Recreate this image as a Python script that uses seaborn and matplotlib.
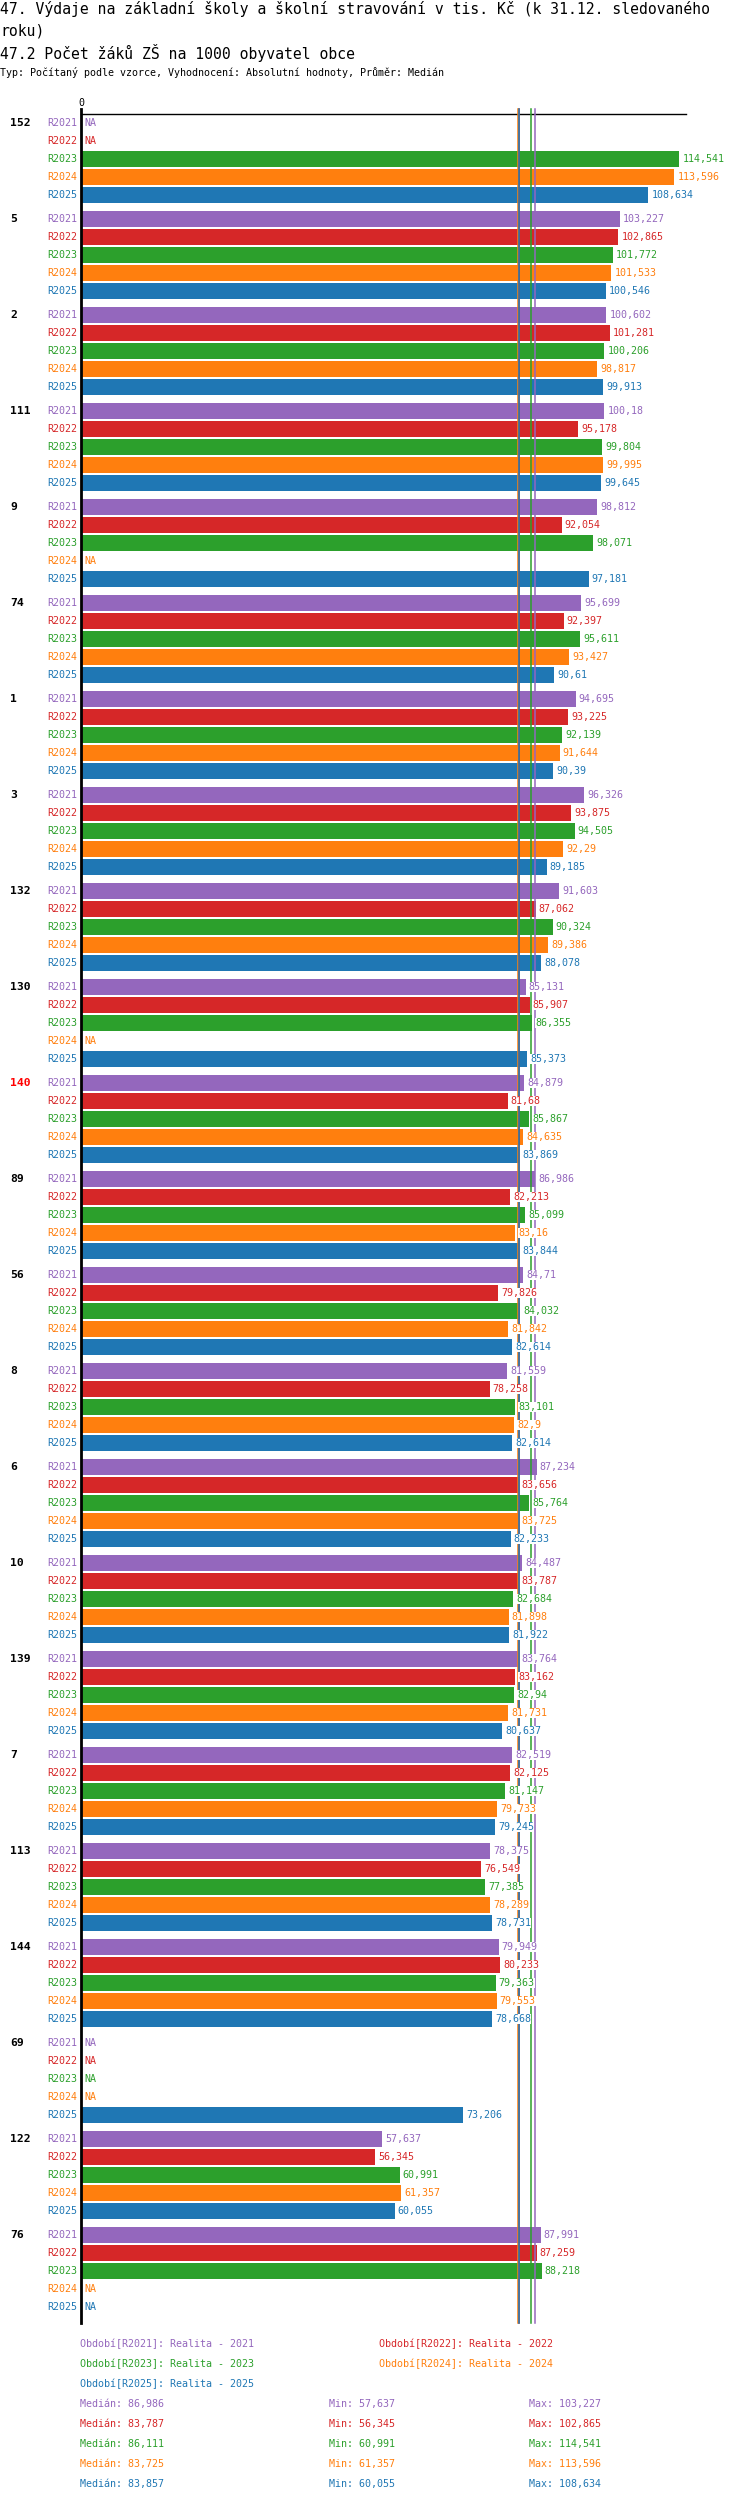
import numpy as np
import pandas as pd
import matplotlib
matplotlib.use("Agg")
import matplotlib.pyplot as plt
import seaborn as sns

nan = np.nan

groups = ["152", "5", "2", "111", "9", "74", "1", "3", "132", "130", "140", "89",
          "56", "8", "6", "10", "139", "7", "113", "144", "69", "122", "76"]
periods = ["R2021", "R2022", "R2023", "R2024", "R2025"]
period_names = ["Realita - 2021", "Realita - 2022", "Realita - 2023",
                "Realita - 2024", "Realita - 2025"]
colors = ["#9467bd", "#d62728", "#2ca02c", "#ff7f0e", "#1f77b4"]

r2021 = [nan, 103.227, 100.602, 100.18, 98.812, 95.699, 94.695, 96.326, 91.603, 85.131, 84.879, 86.986,
         84.71, 81.559, 87.234, 84.487, 83.764, 82.519, 78.375, 79.949, nan, 57.637, 87.991]
r2022 = [nan, 102.865, 101.281, 95.178, 92.054, 92.397, 93.225, 93.875, 87.062, 85.907, 81.68, 82.213,
         79.826, 78.258, 83.656, 83.787, 83.162, 82.125, 76.549, 80.233, nan, 56.345, 87.259]
r2023 = [114.541, 101.772, 100.206, 99.804, 98.071, 95.611, 92.139, 94.505, 90.324, 86.355, 85.867, 85.099,
         84.032, 83.101, 85.764, 82.684, 82.94, 81.147, 77.385, 79.363, nan, 60.991, 88.218]
r2024 = [113.596, 101.533, 98.817, 99.995, nan, 93.427, 91.644, 92.29, 89.386, nan, 84.635, 83.16,
         81.842, 82.9, 83.725, 81.898, 81.731, 79.733, 78.289, 79.553, nan, 61.357, nan]
r2025 = [108.634, 100.546, 99.913, 99.645, 97.181, 90.61, 90.39, 89.185, 88.078, 85.373, 83.869, 83.844,
         82.614, 82.614, 82.233, 81.922, 80.637, 79.245, 78.731, 78.668, 73.206, 60.055, nan]
series = [r2021, r2022, r2023, r2024, r2025]

title1 = "47. Výdaje na základní školy a školní stravování v tis. Kč (k 31.12. sledovaného"
title2 = "roku)"
subtitle = "47.2 Počet žáků ZŠ na 1000 obyvatel obce"
info = "Typ: Počítaný podle vzorce, Vyhodnocení: Absolutní hodnoty, Průměr: Medián"

plt.rcParams['font.family'] = ['DejaVu Sans Mono']

W, H = 750, 2502
GROUP_STEP = 96 / 18  # rows per group incl. gap

rows = []
for g, name in enumerate(groups):
    for r, p in enumerate(periods):
        rows.append({"group": name, "period": p, "pos": g * GROUP_STEP + r,
                     "value": series[r][g]})
df = pd.DataFrame(rows)


def fmt(v):
    return f"{round(v + 1e-9, 3):g}".replace(".", ",")


fig = plt.figure(figsize=(W / 100, H / 100), dpi=100)
x0, x1 = 81, 686
y0, y1 = 114, 2323
ax = fig.add_axes([x0 / W, 1 - y1 / H, (x1 - x0) / W, (y1 - y0) / H])

sns.barplot(data=df.dropna(subset=["value"]), x="value", y="pos", hue="period",
            hue_order=periods, palette=colors, orient="h", native_scale=True,
            dodge=False, width=16 / 18, legend=False, saturation=1, ax=ax)

xmax = (x1 - x0) / 5.223
ax.set_xlim(0, xmax)
ax.set_ylim((y1 - 123) / 18, -9 / 18)
ax.set_xticks([])
ax.set_yticks([])
ax.set_xlabel("")
ax.set_ylabel("")
for s in ["left", "right", "bottom"]:
    ax.spines[s].set_visible(False)
ax.spines["top"].set_linewidth(1.0)
ax.spines["top"].set_color("black")

ext = 1 + 5 / (y1 - y0)
medians = [np.nanmedian(s) for s in series]
for m, c in zip(medians, colors):
    ax.axvline(m, ymin=0, ymax=ext, color=c, lw=1.1, clip_on=False, zorder=3)
ax.axvline(0, ymin=0, ymax=ext, color="black", lw=2.0, clip_on=False, zorder=4)
ax.text(0, -9 / 18 - 11 / 18, "0", ha="center", va="center", fontsize=7.2)

lab_x = (77 - x0) / (x1 - x0)
grp_x = (10 - x0) / (x1 - x0)
ytr = ax.get_yaxis_transform()
for _, row in df.iterrows():
    ci = periods.index(row["period"])
    ax.text(lab_x, row["pos"], row["period"], transform=ytr, ha="right", va="center",
            fontsize=7.2, color=colors[ci])
    v = row["value"]
    txt = "NA" if np.isnan(v) else fmt(v)
    xv = 0 if np.isnan(v) else v
    ax.annotate(txt, (xv, row["pos"]), xytext=(2.2, 0), textcoords="offset points",
                ha="left", va="center", fontsize=7.2, color=colors[ci], zorder=5,
                bbox=dict(boxstyle="square,pad=0", fc="white", ec="none"),
                annotation_clip=False)

for g, name in enumerate(groups):
    ax.text(grp_x, g * GROUP_STEP, name, transform=ytr, ha="left", va="center",
            fontsize=8.2, fontweight="bold", color="red" if name == "140" else "black")

# titles
fig.text(0, 1 - 9 / H, title1, ha="left", va="center", fontsize=10.6)
fig.text(0, 1 - 31 / H, title2, ha="left", va="center", fontsize=10.6)
fig.text(0, 1 - 53 / H, subtitle, ha="left", va="center", fontsize=10.6)
fig.text(0, 1 - 73 / H, info, ha="left", va="center", fontsize=7.2)

# legend
leg_pos = [(80, 2344), (379, 2344), (80, 2364), (379, 2364), (80, 2384)]
for (lx, ly), p, n, c in zip(leg_pos, periods, period_names, colors):
    fig.text(lx / W, 1 - ly / H, f"Období[{p}]: {n}", ha="left", va="center",
             fontsize=7.2, color=c)

for i, (s, c) in enumerate(zip(series, colors)):
    ly = 1 - (2404 + 20 * i) / H
    fig.text(80 / W, ly, f"Medián: {fmt(np.nanmedian(s))}", ha="left", va="center",
             fontsize=7.2, color=c)
    fig.text(329 / W, ly, f"Min: {fmt(np.nanmin(s))}", ha="left", va="center",
             fontsize=7.2, color=c)
    fig.text(529 / W, ly, f"Max: {fmt(np.nanmax(s))}", ha="left", va="center",
             fontsize=7.2, color=c)

fig.savefig("out.png", dpi=100)
